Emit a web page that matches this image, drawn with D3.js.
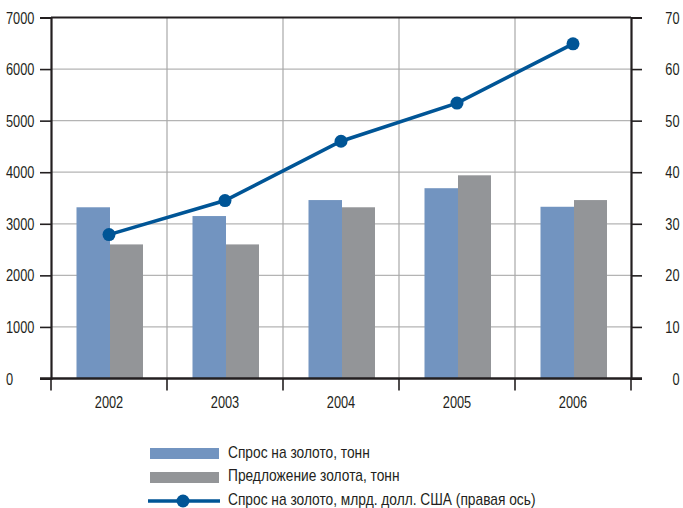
<!DOCTYPE html>
<html>
<head>
<meta charset="utf-8">
<script src="https://cdn.jsdelivr.net/npm/d3@7"></script>
<style>
  html, body { margin: 0; padding: 0; background: #fff; }
  svg { display: block; font-family: "Liberation Sans", Arial, sans-serif; }
</style>
</head>
<body>
<svg id="chart" width="683" height="508"></svg>
<script>
// Gold market 2002–2006
const years = ["2002", "2003", "2004", "2005", "2006"];
const demandTonnes = [3320, 3150, 3460, 3690, 3330];
const supplyTonnes = [2600, 2600, 3320, 3940, 3460];
const demandBnUsd = [27.9, 34.5, 46.0, 53.4, 64.9];
const leftTicks = [0, 1000, 2000, 3000, 4000, 5000, 6000, 7000];
const rightTicks = [0, 10, 20, 30, 40, 50, 60, 70];
const legendLabels = [
  "Спрос на золото, тонн",
  "Предложение золота, тонн",
  "Спрос на золото, млрд. долл. США (правая ось)"
];

const colors = { demand: "#7294c0", supply: "#939598", line: "#005596", axis: "#231f20" };
const digitSqueeze = 0.8;   // condensed look for numeric labels
const textSqueeze = 0.86;   // condensed look for legend text

const svg = d3.select("#chart");
const m = { left: 51, right: 631, top: 17.5, bottom: 378.5 };

const x = d3.scaleBand().domain(years).range([m.left, m.right]).padding(0);
const yL = d3.scaleLinear().domain([0, 7000]).range([m.bottom, m.top]);
const yR = d3.scaleLinear().domain([0, 70]).range([m.bottom, m.top]);

// horizontal gridlines
svg.append("g").selectAll("line").data(leftTicks.slice(1, -1)).join("line")
  .attr("x1", m.left).attr("x2", m.right)
  .attr("y1", d => yL(d)).attr("y2", d => yL(d))
  .attr("stroke", "#b4b4b4").attr("stroke-width", 1.2);

// vertical gridlines between categories
const bounds = years.map(d => x(d)).concat([m.right]);
svg.append("g").selectAll("line").data(bounds.slice(1, -1)).join("line")
  .attr("x1", d => d).attr("x2", d => d)
  .attr("y1", m.top).attr("y2", m.bottom)
  .attr("stroke", "#a8a8a8").attr("stroke-width", 1.2);

// bars
const bw = 33;
const bars = svg.append("g");
bars.selectAll("rect.demand").data(years).join("rect")
  .attr("class", "demand")
  .attr("x", (d) => x(d) + x.bandwidth() / 2 - bw + 0.5)
  .attr("width", bw + 0.5)
  .attr("y", (d, i) => yL(demandTonnes[i]))
  .attr("height", (d, i) => yL(0) - yL(demandTonnes[i]))
  .attr("fill", colors.demand);
bars.selectAll("rect.supply").data(years).join("rect")
  .attr("class", "supply")
  .attr("x", (d) => x(d) + x.bandwidth() / 2 + 1)
  .attr("width", bw)
  .attr("y", (d, i) => yL(supplyTonnes[i]))
  .attr("height", (d, i) => yL(0) - yL(supplyTonnes[i]))
  .attr("fill", colors.supply);

// frame: top line, left & right axes
svg.append("line").attr("x1", m.left).attr("x2", m.right).attr("y1", m.top).attr("y2", m.top)
  .attr("stroke", colors.axis).attr("stroke-width", 2);

const axisL = d3.axisLeft(yL).tickValues(leftTicks).tickSize(11).tickFormat(d3.format("d"));
const gL = svg.append("g").attr("transform", `translate(${m.left},0)`).call(axisL);
gL.select(".domain").attr("stroke", colors.axis).attr("stroke-width", 2.2);
gL.selectAll(".tick line").attr("stroke", colors.axis).attr("stroke-width", 1.6);
gL.selectAll(".tick text").attr("font-size", 16).attr("fill", "#231f20")
  .attr("text-anchor", "start").attr("x", 0).attr("dy", "0.35em")
  .attr("transform", `translate(-45,0) scale(${digitSqueeze},1)`);

const axisR = d3.axisRight(yR).tickValues(rightTicks).tickSize(11).tickFormat(d3.format("d"));
const gR = svg.append("g").attr("transform", `translate(${m.right},0)`).call(axisR);
gR.select(".domain").attr("stroke", colors.axis).attr("stroke-width", 2.2);
gR.selectAll(".tick line").attr("stroke", colors.axis).attr("stroke-width", 1.6);
gR.selectAll(".tick text").attr("font-size", 16).attr("fill", "#231f20")
  .attr("text-anchor", "end").attr("x", 0).attr("dy", "0.35em")
  .attr("transform", `translate(48.5,0) scale(${digitSqueeze},1)`);

// bottom axis with ticks at category boundaries
svg.append("line").attr("x1", 40).attr("x2", 642).attr("y1", m.bottom).attr("y2", m.bottom)
  .attr("stroke", colors.axis).attr("stroke-width", 2.6);
svg.append("g").selectAll("line").data(bounds).join("line")
  .attr("x1", d => d).attr("x2", d => d)
  .attr("y1", m.bottom).attr("y2", m.bottom + 12)
  .attr("stroke", colors.axis).attr("stroke-width", 1.6);
svg.append("g").selectAll("text").data(years).join("text")
  .attr("transform", d => `translate(${x(d) + x.bandwidth() / 2},408) scale(${digitSqueeze},1)`)
  .attr("text-anchor", "middle")
  .attr("font-size", 16).attr("fill", "#231f20")
  .text(d => d);

// line series on the right axis
const lineGen = d3.line()
  .x((d, i) => x(years[i]) + x.bandwidth() / 2)
  .y(d => yR(d));
svg.append("path").datum(demandBnUsd)
  .attr("d", lineGen)
  .attr("fill", "none").attr("stroke", colors.line).attr("stroke-width", 3.6);
svg.append("g").selectAll("circle").data(demandBnUsd).join("circle")
  .attr("cx", (d, i) => x(years[i]) + x.bandwidth() / 2)
  .attr("cy", d => yR(d))
  .attr("r", 6.5)
  .attr("fill", colors.line);

// legend
const lg = svg.append("g");
lg.append("rect").attr("x", 150).attr("y", 448).attr("width", 69).attr("height", 11).attr("fill", colors.demand);
lg.append("rect").attr("x", 150).attr("y", 472).attr("width", 69).attr("height", 11).attr("fill", colors.supply);
lg.append("line").attr("x1", 148).attr("x2", 220).attr("y1", 501).attr("y2", 501)
  .attr("stroke", colors.line).attr("stroke-width", 3.6);
lg.append("circle").attr("cx", 183).attr("cy", 501).attr("r", 6.5).attr("fill", colors.line);
lg.selectAll("text").data(legendLabels).join("text")
  .attr("transform", (d, i) => `translate(228,${457.5 + i * 23.5}) scale(${textSqueeze},1)`)
  .attr("font-size", 16).attr("fill", "#231f20")
  .text(d => d);
</script>
</body>
</html>
